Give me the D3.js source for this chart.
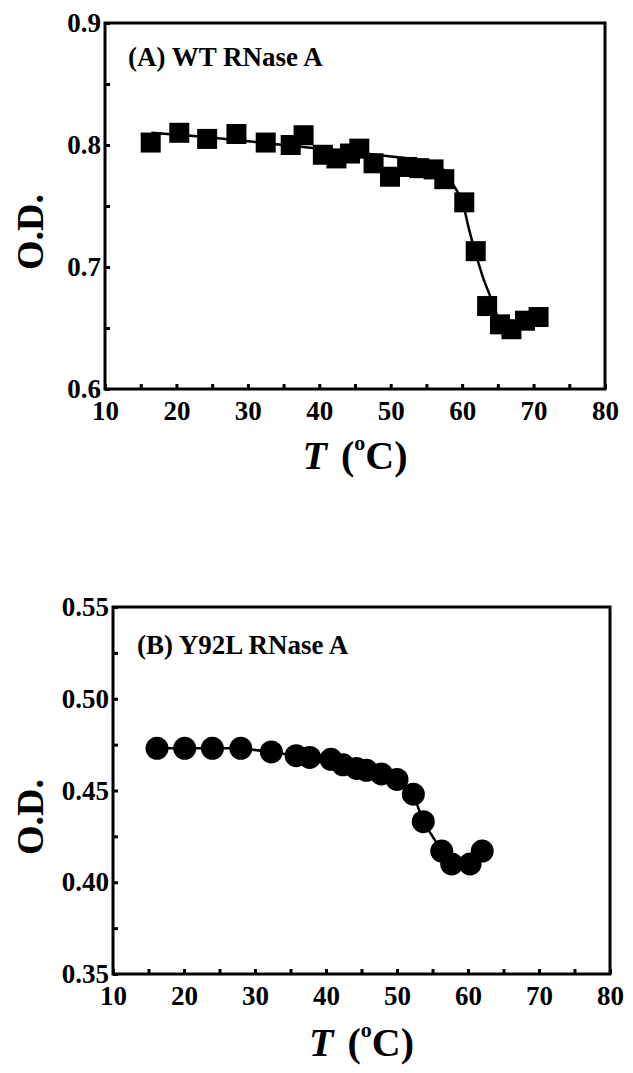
<!DOCTYPE html>
<html>
<head>
<meta charset="utf-8">
<script src="https://cdn.jsdelivr.net/npm/d3@7"></script>
<style>
  body { margin: 0; background: #fff; }
  svg { display: block; }
  text { font-family: "Liberation Serif", "Times New Roman", serif; font-weight: bold; fill: #000; }
</style>
</head>
<body>
<svg id="chart" width="633" height="1073"></svg>
<script>
// Panel A: WT RNase A (squares + fitted curve)
const wtTemp = [16.4, 20.4, 24.3, 28.4, 32.5, 36.0, 37.8, 40.5, 42.4, 44.3, 45.6, 47.6, 49.9, 52.3, 54.0, 56.0, 57.5, 60.3, 61.9, 63.5, 65.3, 66.9, 68.8, 70.7];
const wtOD = [0.802, 0.810, 0.805, 0.809, 0.802, 0.800, 0.808, 0.792, 0.789, 0.793, 0.797, 0.785, 0.774, 0.782, 0.781, 0.780, 0.772, 0.753, 0.713, 0.668, 0.653, 0.649, 0.656, 0.659];
const wtFitTemp = [16.5, 25, 35, 45, 51, 54, 56, 57, 58, 59, 60, 61, 62, 63, 64, 65];
const wtFitOD = [0.810, 0.806, 0.800, 0.794, 0.790, 0.788, 0.786, 0.782, 0.775, 0.765, 0.754, 0.730, 0.709, 0.690, 0.675, 0.658];

// Panel B: Y92L RNase A (circles joined by a line)
const y92lTemp = [16.2, 20.1, 24.0, 28.0, 32.3, 35.8, 37.7, 40.7, 42.4, 44.3, 45.7, 47.8, 50.0, 52.3, 53.7, 56.3, 57.7, 60.3, 62.0];
const y92lOD = [0.473, 0.473, 0.473, 0.473, 0.471, 0.469, 0.468, 0.467, 0.464, 0.462, 0.461, 0.459, 0.456, 0.448, 0.433, 0.417, 0.410, 0.410, 0.417];

const xTicks = [10, 15, 20, 25, 30, 35, 40, 45, 50, 55, 60, 65, 70, 75, 80];
const wtYTicks = [0.6, 0.65, 0.7, 0.75, 0.8, 0.85, 0.9];
const y92lYTicks = [0.35, 0.375, 0.40, 0.425, 0.45, 0.475, 0.50, 0.525, 0.55];

const svg = d3.select('#chart');
svg.append('rect').attr('width', 633).attr('height', 1073).attr('fill', '#fff');

/**
 * Draws one panel of the figure.
 */
function drawPanel(cfg) {
    const x = d3.scaleLinear().domain([10, 80]).range([cfg.left, cfg.right]);
    const y = d3.scaleLinear().domain(cfg.yDomain).range([cfg.bottom, cfg.top]);
    const g = svg.append('g');

    // bottom axis, ticks pointing inward
    const xAxis = d3.axisBottom(x)
        .tickValues(xTicks)
        .tickSizeInner(-5)
        .tickSizeOuter(0)
        .tickPadding(12)
        .tickFormat(d => d % 10 === 0 ? d : '');
    const gx = g.append('g').attr('transform', `translate(0,${cfg.bottom})`).call(xAxis);
    gx.select('.domain').remove();
    gx.selectAll('line').attr('stroke', '#000').attr('stroke-width', 3);
    gx.selectAll('text').attr('font-size', 27).attr('fill', '#000');

    // left axis
    const yAxis = d3.axisLeft(y)
        .tickValues(cfg.yTicks)
        .tickSizeInner(-5)
        .tickSizeOuter(0)
        .tickPadding(4)
        .tickFormat(d => cfg.yMajor.includes(d) ? d3.format(cfg.yFmt)(d) : '');
    const gy = g.append('g').attr('transform', `translate(${cfg.left},0)`).call(yAxis);
    gy.select('.domain').remove();
    gy.selectAll('line').attr('stroke', '#000').attr('stroke-width', 3);
    gy.selectAll('text').attr('font-size', 27).attr('fill', '#000');

    // frame
    g.append('rect')
        .attr('x', cfg.left).attr('y', cfg.top)
        .attr('width', cfg.right - cfg.left).attr('height', cfg.bottom - cfg.top)
        .attr('fill', 'none').attr('stroke', '#000').attr('stroke-width', 3);

    // line
    const line = d3.line().x(d => x(d[0])).y(d => y(d[1])).curve(cfg.curve);
    g.append('path')
        .datum(d3.zip(cfg.lineX, cfg.lineY))
        .attr('d', line)
        .attr('fill', 'none').attr('stroke', '#000').attr('stroke-width', 2.5);

    // markers
    const pts = d3.zip(cfg.ptX, cfg.ptY);
    if (cfg.marker === 'square') {
        g.selectAll('rect.pt').data(pts).join('rect')
            .attr('class', 'pt')
            .attr('x', d => x(d[0]) - 10).attr('y', d => y(d[1]) - 10)
            .attr('width', 20).attr('height', 20).attr('fill', '#000');
    } else {
        g.selectAll('circle.pt').data(pts).join('circle')
            .attr('class', 'pt')
            .attr('cx', d => x(d[0])).attr('cy', d => y(d[1]))
            .attr('r', 11.5).attr('fill', '#000');
    }

    // panel label
    g.append('text').attr('x', cfg.labelX).attr('y', cfg.labelY)
        .attr('font-size', 27).text(cfg.label);

    // y title
    g.append('text')
        .attr('transform', `translate(${cfg.yTitleX},${cfg.yTitleY}) rotate(-90)`)
        .attr('text-anchor', 'middle').attr('font-size', 38).text('O.D.');

    // x title: T (oC)
    const xt = g.append('text')
        .attr('x', (cfg.left + cfg.right) / 2).attr('y', cfg.xTitleY)
        .attr('text-anchor', 'middle').attr('font-size', 40);
    xt.append('tspan').attr('font-style', 'italic').text('T');
    xt.append('tspan').attr('dx', 14).text('(');
    xt.append('tspan').attr('font-size', 22).attr('dy', -19).text('o');
    xt.append('tspan').attr('dy', 19).text('C)');
}

drawPanel({
    left: 105, right: 605, top: 23, bottom: 389,
    yDomain: [0.6, 0.9], yTicks: wtYTicks, yMajor: [0.6, 0.7, 0.8, 0.9], yFmt: '.1f',
    lineX: wtFitTemp, lineY: wtFitOD, curve: d3.curveMonotoneX,
    ptX: wtTemp, ptY: wtOD, marker: 'square',
    label: '(A) WT RNase A', labelX: 128, labelY: 66,
    yTitleX: 43, yTitleY: 232, xTitleY: 469
});

drawPanel({
    left: 113, right: 610, top: 607, bottom: 974,
    yDomain: [0.35, 0.55], yTicks: y92lYTicks, yMajor: [0.35, 0.40, 0.45, 0.50, 0.55], yFmt: '.2f',
    lineX: y92lTemp, lineY: y92lOD, curve: d3.curveLinear,
    ptX: y92lTemp, ptY: y92lOD, marker: 'circle',
    label: '(B) Y92L RNase A', labelX: 137, labelY: 654,
    yTitleX: 43, yTitleY: 817, xTitleY: 1056
});
</script>
</body>
</html>
